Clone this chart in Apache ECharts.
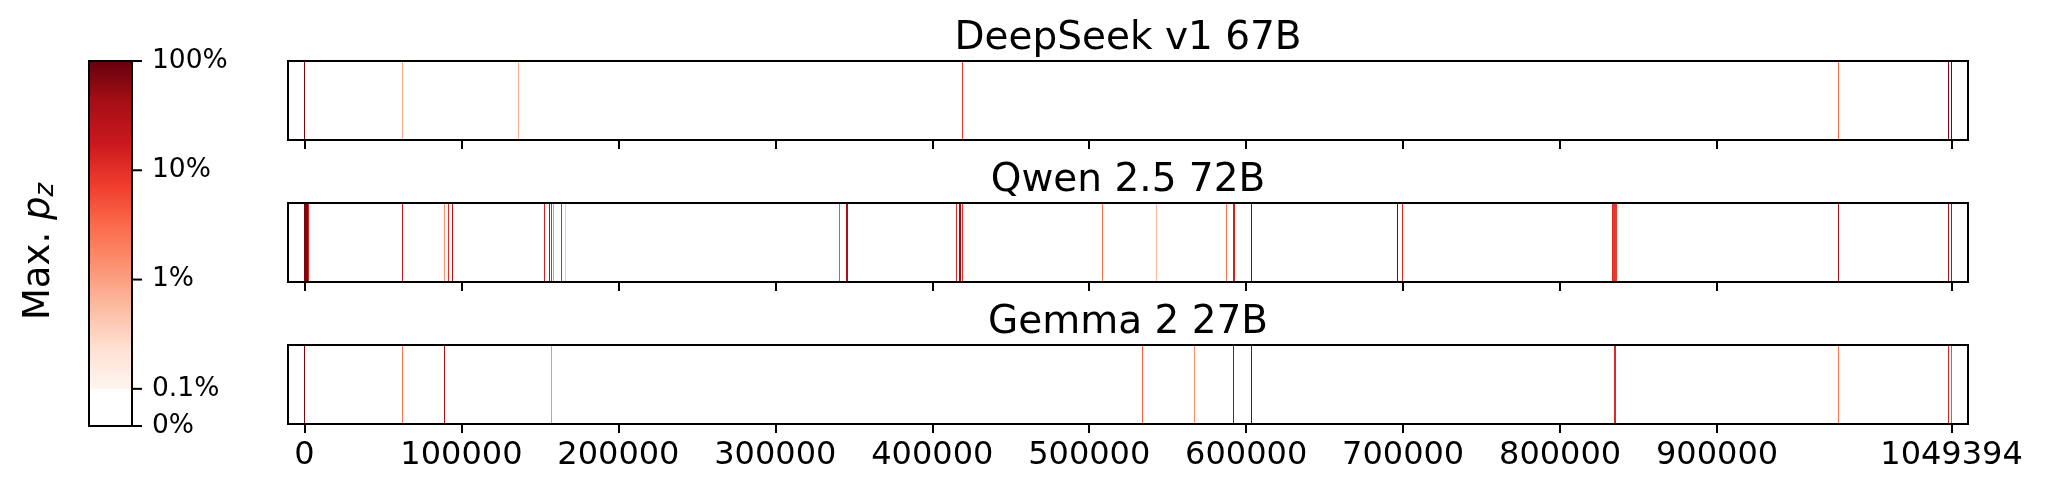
<!DOCTYPE html>
<html>
<head>
<meta charset="utf-8">
<script src="https://cdn.jsdelivr.net/npm/echarts@6/dist/echarts.min.js"></script>
<style>
  html, body { margin: 0; padding: 0; background: #fff; }
  #chart { width: 2045px; height: 498px; }
</style>
</head>
<body>
<div id="chart"></div>
<script>
// token positions (x) and max p_z in percent, one pair of arrays per model
var titles = ["DeepSeek v1 67B", "Qwen 2.5 72B", "Gemma 2 27B"];
var xTicks = [0, 100000, 200000, 300000, 400000, 500000, 600000, 700000, 800000, 900000, 1049394];
var cbarTicks = [0, 0.1, 1, 10, 100];
var cbarLabels = ["0%", "0.1%", "1%", "10%", "100%"];

var deepseekPos = [0, 62700, 136100, 419400, 977100, 1047700, 1049300];
var deepseekVal = [70, 0.8, 0.7, 8, 3, 60, 80];

var qwenPos = [0, 600, 1200, 1800, 2300, 62700, 89500, 91900, 94400, 152800, 156200, 157500, 158700,
  163800, 166300, 341000, 345100, 345700, 415400, 417100, 417900, 419100, 508300, 542900, 587200,
  591900, 592500, 603100, 696200, 699400, 833500, 834100, 834700, 835300, 835900, 977100, 1047700, 1049300];
var qwenVal = [75, 75, 75, 75, 15, 20, 1.5, 10, 30, 15, 40, 12, 1.5,
  12, 0.4, 5, 35, 35, 12, 50, 50, 10, 3, 0.6, 2.5,
  15, 15, 70, 70, 12, 12, 8, 8, 8, 8, 40, 40, 30];

var gemmaPos = [0, 62700, 89500, 157500, 533900, 567300, 591900, 603100, 834700, 835300, 977100, 1047700, 1049300];
var gemmaVal = [70, 2.5, 40, 1.5, 4, 1.5, 50, 70, 12, 12, 2.5, 12, 5];

var redsStops = ["#fff5f0", "#fee0d2", "#fcbba1", "#fc9272", "#fb6a4a", "#ef3b2c", "#cb181d", "#a50f15", "#67000d"];
var linScale = 0.34;

function symlog(pct) {
  if (pct <= 0.1) return (pct / 0.1) * linScale;
  return linScale + Math.log10(pct / 0.1);
}

function hexToRgb(h) {
  return [parseInt(h.substr(1, 2), 16), parseInt(h.substr(3, 2), 16), parseInt(h.substr(5, 2), 16)];
}

function redsColor(pct) {
  if (pct < 0.1) return "#ffffff";
  var t = (Math.log10(pct / 100) + 3) / 3;
  t = Math.max(0, Math.min(1, t));
  var f = t * (redsStops.length - 1);
  var i = Math.min(Math.floor(f), redsStops.length - 2);
  var r = f - i;
  var a = hexToRgb(redsStops[i]), b = hexToRgb(redsStops[i + 1]);
  var c = [0, 1, 2].map(function (k) { return Math.round(a[k] + (b[k] - a[k]) * r); });
  return "rgb(" + c.join(",") + ")";
}

function zip(xs, vs) {
  return xs.map(function (x, i) { return [x, vs[i]]; });
}

var font = "DejaVu Sans";
var panelTops = [61, 203, 345];
var panelLeft = 288, panelWidth = 1680, panelHeight = 79;
var xMin = -10494, xMax = 1059888;

var grids = [{ left: 89, top: 61, width: 43, height: 365, show: true, borderColor: "#000", borderWidth: 2, backgroundColor: "transparent" }];
var xAxes = [{ gridIndex: 0, type: "value", min: 0, max: 1, show: false }];
var yAxes = [
  {
    gridIndex: 0, type: "value", position: "right", min: 0, max: symlog(100),
    splitLine: { show: false }, axisLine: { show: false, onZero: false },
    axisTick: { show: false },
    axisLabel: {
      show: true, margin: 20, color: "#000", fontFamily: font, fontSize: 26.5,
      customValues: cbarTicks.map(symlog),
      formatter: function (v) {
        var best = 0;
        cbarTicks.forEach(function (t, i) {
          if (Math.abs(symlog(t) - v) < Math.abs(symlog(cbarTicks[best]) - v)) best = i;
        });
        return cbarLabels[best];
      }
    }
  },
  {
    gridIndex: 0, type: "value", position: "left", min: 0, max: 1,
    axisLine: { show: false, onZero: false }, axisTick: { show: false }, axisLabel: { show: false }, splitLine: { show: false },
    name: "{a|Max. }{b|p}{c|z}", nameLocation: "middle", nameRotate: 90, nameGap: 30,
    nameTextStyle: {
      rich: {
        a: { fontFamily: font, fontSize: 37, color: "#000" },
        b: { fontFamily: font, fontSize: 37, fontStyle: "italic", color: "#000" },
        c: { fontFamily: font, fontSize: 26, fontStyle: "italic", color: "#000", padding: [14, 16, 0, 0] }
      }
    }
  }
];

var modelData = [zip(deepseekPos, deepseekVal), zip(qwenPos, qwenVal), zip(gemmaPos, gemmaVal)];

function renderStripe(params, api) {
  var cs = params.coordSys;
  var x = api.coord([api.value(0), 0.5])[0];
  return {
    type: "rect",
    shape: { x: Math.floor(x), y: cs.y + 1, width: 1, height: cs.height - 2 },
    style: { fill: redsColor(api.value(1)) },
    silent: true
  };
}

// colour bar: white below 0.1%, Reds gradient above, plus tick marks on the right edge
function renderColorbar(params, api) {
  var cs = params.coordSys;
  var y0 = api.coord([0, 0])[1];
  var y1 = api.coord([0, symlog(0.1)])[1];
  var y2 = api.coord([0, symlog(100)])[1];
  var stops = redsStops.map(function (c, i) { return { offset: i / (redsStops.length - 1), color: c }; });
  var children = [
    { type: "rect", shape: { x: cs.x, y: y1, width: cs.width, height: y0 - y1 }, style: { fill: "#fff" } },
    { type: "rect", shape: { x: cs.x, y: y2, width: cs.width, height: y1 - y2 }, style: { fill: new echarts.graphic.LinearGradient(0, 1, 0, 0, stops) } },
    { type: "rect", shape: { x: cs.x, y: y2, width: cs.width, height: y0 - y2 }, style: { fill: "none", stroke: "#000", lineWidth: 2 } }
  ];
  cbarTicks.forEach(function (t) {
    var y = api.coord([0, symlog(t)])[1];
    children.push({
      type: "rect",
      shape: { x: cs.x + cs.width, y: y - 1, width: 10, height: 2 },
      style: { fill: "#000" }
    });
  });
  return { type: "group", children: children };
}

var series = [{
  type: "custom", xAxisIndex: 0, yAxisIndex: 0, data: [[0, 0]], renderItem: renderColorbar, silent: true, clip: false
}];
var graphics = [];

titles.forEach(function (t, i) {
  grids.push({ left: panelLeft, top: panelTops[i], width: panelWidth, height: panelHeight, show: true, borderColor: "#000", borderWidth: 2, backgroundColor: "transparent" });
  xAxes.push({
    gridIndex: i + 1, type: "value", min: xMin, max: xMax,
    splitLine: { show: false }, axisLine: { show: false, onZero: false },
    axisTick: { show: true, length: 9, lineStyle: { color: "#000", width: 2 }, customValues: xTicks },
    axisLabel: {
      show: i === 2, margin: 16, color: "#000", fontFamily: font, fontSize: 32,
      customValues: xTicks, formatter: function (v) { return String(v); }
    }
  });
  yAxes.push({ gridIndex: i + 1, type: "value", min: 0, max: 1, show: false });
  series.push({
    type: "custom", xAxisIndex: i + 1, yAxisIndex: i + 2, data: modelData[i], renderItem: renderStripe, clip: true, silent: true
  });
  graphics.push({
    type: "text", x: panelLeft + panelWidth / 2, y: panelTops[i] - 22,
    style: { text: t, fontFamily: font, fontSize: 39, fill: "#000", align: "center", verticalAlign: "middle" }
  });
});

var myChart = echarts.init(document.getElementById("chart"), null, { renderer: "canvas" });
var option = {
  animation: false,
  backgroundColor: "#fff",
  grid: grids,
  xAxis: xAxes,
  yAxis: yAxes,
  series: series,
  graphic: graphics
};
option && myChart.setOption(option);
</script>
</body>
</html>
